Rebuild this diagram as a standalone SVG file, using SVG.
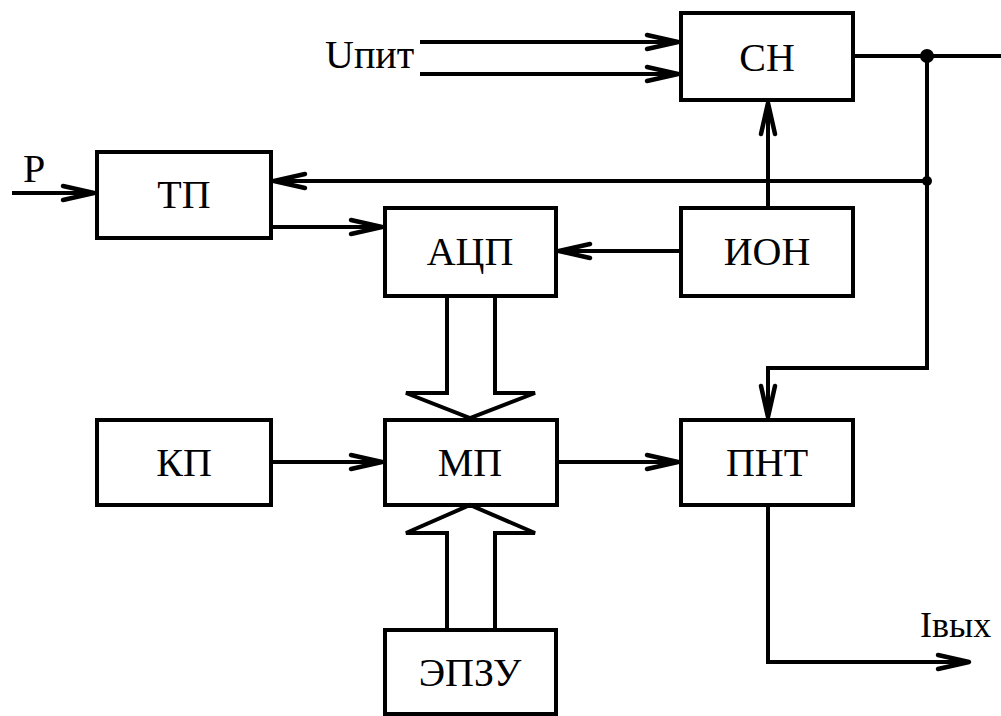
<svg xmlns="http://www.w3.org/2000/svg" width="1001" height="716" viewBox="0 0 1001 716">
<style>
.box{fill:none;stroke:#000;stroke-width:4}
.w{fill:none;stroke:#000;stroke-width:4;stroke-linejoin:miter}
text{font-family:'Liberation Serif','Times New Roman','DejaVu Serif',serif;fill:#000}
.t{font-size:40px;text-anchor:middle}
.l{font-size:40px}
.hol{fill:#fff;stroke:#000;stroke-width:4;stroke-linejoin:miter}
</style>
<defs>
<marker id="a" markerUnits="userSpaceOnUse" viewBox="-36 -10 40 20" refX="0" refY="0" markerWidth="40" markerHeight="20" orient="auto">
<path d="M-32,-7 L-1,0 L-32,7" fill="none" stroke="#000" stroke-width="4.5" stroke-linecap="round" stroke-linejoin="round"/>
</marker>
</defs>
<rect width="1001" height="716" fill="#fff"/>
<g id="connectors">
<path class="w" d="M420,42 H679" marker-end="url(#a)"/>
<path class="w" d="M420,74 H679" marker-end="url(#a)"/>
<path class="w" d="M853,56 H1001"/>
<path class="w" d="M927,56 V368 H768 V418" marker-end="url(#a)"/>
<path class="w" d="M927,181 H273" marker-end="url(#a)"/>
<path class="w" d="M12,193 H95" marker-end="url(#a)"/>
<path class="w" d="M271,227 H383" marker-end="url(#a)"/>
<path class="w" d="M681,251 H558" marker-end="url(#a)"/>
<path class="w" d="M768,208 V102" marker-end="url(#a)"/>
<path class="w" d="M271,462 H383" marker-end="url(#a)"/>
<path class="w" d="M557,462 H679" marker-end="url(#a)"/>
<path class="w" d="M768,505 V662 H970" marker-end="url(#a)"/>
<path class="hol" d="M447,296 V393 H406 L470,418 L535,393 H495 V296"/>
<path class="hol" d="M447,630 V533 H406 L470,505 L535,533 H495 V630"/>
<circle cx="927" cy="56" r="7" fill="#000"/>
<circle cx="927" cy="181" r="5" fill="#000"/>
</g>
<g id="labels">
<text class="l" x="325" y="68" font-family="Liberation Serif">Uпит</text>
<text class="l" x="23" y="182" font-family="Liberation Serif">P</text>
<text x="920" y="637" font-family="Liberation Serif" font-size="36">Iвых</text>
</g>
<g id="CH"><rect class="box" x="681" y="13" width="172" height="87"/><text class="t" x="767" y="71" font-family="Liberation Serif">CH</text></g>
<g id="TP"><rect class="box" x="97" y="152" width="174" height="86"/><text class="t" x="184" y="208" font-family="Liberation Serif">ТП</text></g>
<g id="ACP"><rect class="box" x="385" y="208" width="171" height="88"/><text class="t" x="470" y="265" font-family="Liberation Serif">АЦП</text></g>
<g id="ION"><rect class="box" x="681" y="208" width="172" height="88"/><text class="t" x="767" y="265" font-family="Liberation Serif">ИОН</text></g>
<g id="KP"><rect class="box" x="97" y="420" width="174" height="85"/><text class="t" x="184" y="476" font-family="Liberation Serif">КП</text></g>
<g id="MP"><rect class="box" x="385" y="420" width="172" height="85"/><text class="t" x="470" y="476" font-family="Liberation Serif">МП</text></g>
<g id="PNT"><rect class="box" x="681" y="420" width="172" height="85"/><text class="t" x="767" y="476" font-family="Liberation Serif">ПНТ</text></g>
<g id="EPZU"><rect class="box" x="385" y="630" width="171" height="84"/><text class="t" x="470" y="686" font-family="Liberation Serif">ЭПЗУ</text></g>
</svg>
